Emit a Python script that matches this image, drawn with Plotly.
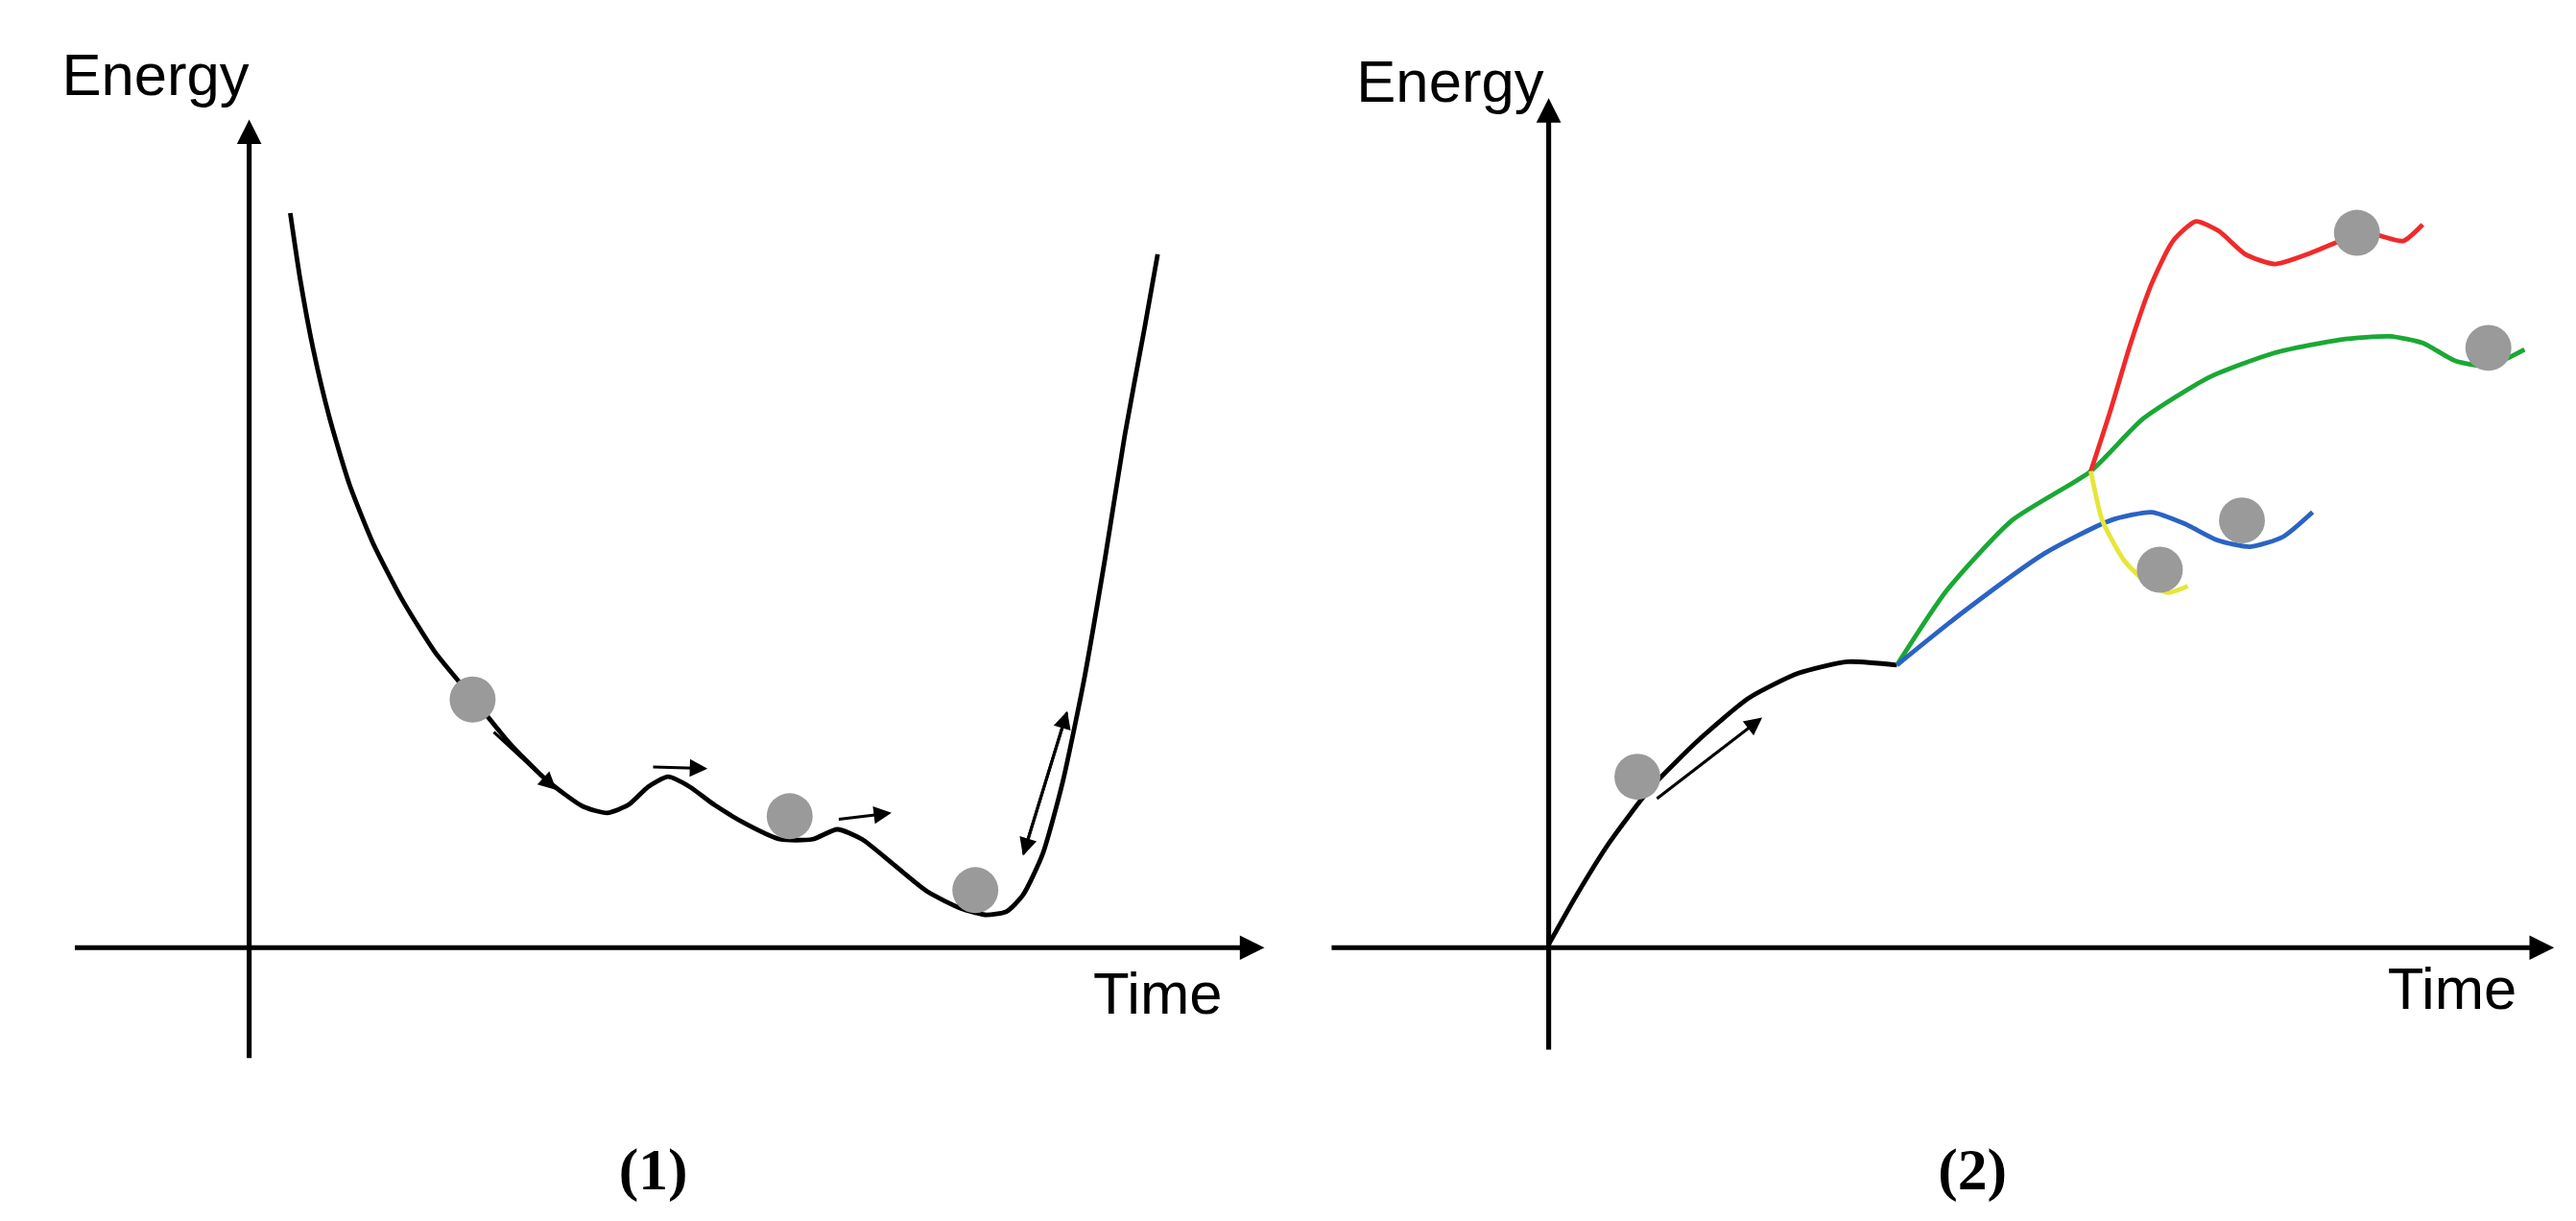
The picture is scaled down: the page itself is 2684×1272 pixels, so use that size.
import plotly.graph_objects as go

# coordinates in the drawing's own units (x right, y down)
p1_x = [172, 178, 186, 196, 208, 222, 240, 260, 283, 305, 328, 350, 365, 378, 390, 402, 415, 430, 450, 470, 490, 505, 520, 540, 560, 580, 595, 608, 618, 630, 642, 655, 668, 680, 692, 700]
p1_y = [125, 165, 208, 250, 290, 325, 360, 392, 420, 447, 470, 486, 490, 485, 474, 468, 474, 485, 497, 506, 506, 500, 506, 522, 538, 548, 552, 550, 540, 515, 472, 410, 335, 260, 195, 150]
balls1_x = [283, 476, 589]
balls1_y = [421, 492, 537]

black_x = [938, 955, 975, 1000, 1030, 1060, 1090, 1120, 1150]
black_y = [570, 540, 508, 475, 445, 420, 405, 398, 400]
green_x = [1150, 1180, 1220, 1268, 1300, 1340, 1380, 1420, 1450, 1470, 1490, 1510, 1532]
green_y = [400, 355, 312, 282, 250, 225, 210, 202, 200, 204, 215, 218, 208]
blue_x = [1150, 1190, 1240, 1280, 1305, 1325, 1345, 1365, 1385, 1403]
blue_y = [400, 368, 332, 312, 307, 314, 324, 328, 322, 307]
red_x = [1268, 1280, 1292, 1305, 1318, 1332, 1346, 1362, 1380, 1400, 1420, 1440, 1458, 1470]
red_y = [282, 245, 205, 168, 142, 130, 136, 150, 156, 150, 142, 138, 142, 132]
yellow_x = [1268, 1275, 1288, 1302, 1315, 1327]
yellow_y = [282, 312, 336, 350, 356, 352]
balls2_x = [992, 1430, 1510, 1360, 1310]
balls2_y = [468, 137, 207, 312, 342]

S = 2684 / 1568
fig = go.Figure()

def line(x, y, c, w=2.8):
    fig.add_trace(go.Scatter(x=x, y=y, mode="lines", line=dict(color=c, width=w * S, shape="spline", smoothing=0.6),
                             hoverinfo="skip", showlegend=False))

line(p1_x, p1_y, "black")
line(black_x, black_y, "black")
line(green_x, green_y, "#1aa834")
line(blue_x, blue_y, "#2a63c4")
line(red_x, red_y, "#f02a2a")
line(yellow_x, yellow_y, "#e6e63a")
fig.add_trace(go.Scatter(x=balls1_x + balls2_x, y=balls1_y + balls2_y, mode="markers",
                         marker=dict(size=28 * S, color="#9a9a9a"), showlegend=False, hoverinfo="skip"))

def arrow(x0, y0, x1, y1, w=1.8, head=2, size=1.2):
    fig.add_annotation(x=x1, y=y1, ax=x0, ay=y0, xref="x", yref="y", axref="x", ayref="y",
                       showarrow=True, arrowhead=head, arrowsize=size, arrowwidth=w * S, arrowcolor="black", text="")

# axes
arrow(40, 572, 765, 572, 3, 2, 1.0)
arrow(147, 640, 147, 68, 3, 2, 1.0)
arrow(805, 572, 1550, 572, 3, 2, 1.0)
arrow(938, 635, 938, 55, 3, 2, 1.0)
# motion arrows
arrow(295, 440, 334, 476)
arrow(392, 462, 426, 463)
arrow(505, 494, 538, 490)
arrow(618, 516, 645, 428)
arrow(645, 428, 618, 516)
arrow(1003, 482, 1068, 432)

texts = ["Energy", "Time", "Energy", "Time"]
tx = [90, 700, 878, 1488]
ty = [44, 603, 48, 600]
fig.add_trace(go.Scatter(x=tx, y=ty, mode="text", text=texts, showlegend=False, hoverinfo="skip",
                         textfont=dict(family="Liberation Sans", size=36 * S, color="black")))
fig.add_trace(go.Scatter(x=[393, 1196], y=[710, 710], mode="text", text=["<b>(1)</b>", "<b>(2)</b>"],
                         showlegend=False, hoverinfo="skip",
                         textfont=dict(family="Liberation Serif", size=36 * S, color="black")))

fig.update_xaxes(range=[0, 1568], visible=False)
fig.update_yaxes(range=[743, 0], visible=False)
fig.update_layout(width=2684, height=1272, margin=dict(l=0, r=0, t=0, b=0),
                  plot_bgcolor="white", paper_bgcolor="white")
fig.write_html("out.html")
